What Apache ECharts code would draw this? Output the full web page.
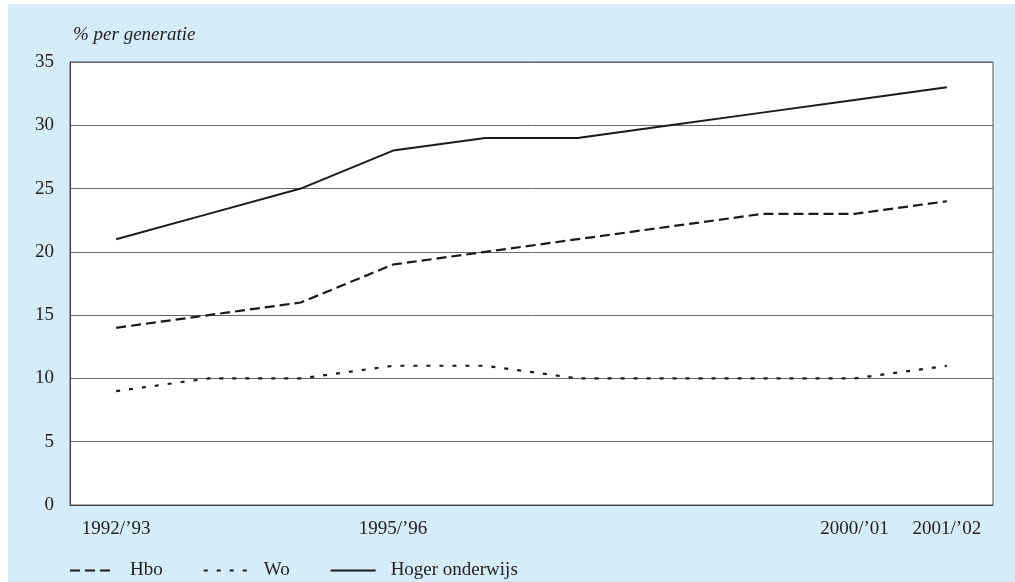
<!DOCTYPE html>
<html>
<head>
<meta charset="utf-8">
<script src="https://cdn.jsdelivr.net/npm/echarts@6/dist/echarts.min.js"></script>
<style>
html,body{margin:0;padding:0;background:#fff;width:1015px;height:582px;overflow:hidden;}
#c{position:absolute;left:8px;top:4px;width:1007px;height:578px;background:#d5ecf9;}
</style>
</head>
<body>
<div id="c"></div>
<script>
const categories = ['1992/\u201993','1993/\u201994','1994/\u201995','1995/\u201996','1996/\u201997','1997/\u201998','1998/\u201999','1999/\u201900','2000/\u201901','2001/\u201902'];
const shownLabels = ['1992/\u201993','1995/\u201996','2000/\u201901','2001/\u201902'];
const hbo = [14, 15, 16, 19, 20, 21, 22, 23, 23, 24];
const wo = [9, 10, 10, 11, 11, 10, 10, 10, 10, 11];
const hogerOnderwijs = [21, 23, 25, 28, 29, 29, 30, 31, 32, 33];
const yTicks = [0, 5, 10, 15, 20, 25, 30, 35];

const FONT = '"Liberation Serif", "DejaVu Serif", serif';
const FS = 19;
const chart = echarts.init(document.getElementById('c'));
chart.setOption({
  animation: false,
  textStyle: { fontFamily: FONT, color: '#222' },
  title: {
    text: '% per generatie', left: 60, top: 16,
    textStyle: { fontFamily: FONT, fontStyle: 'italic', fontWeight: 'normal', fontSize: FS, color: '#222' }
  },
  grid: { left: 62, right: 22, top: 58, bottom: 77, show: true, borderColor: '#555', borderWidth: 1, backgroundColor: '#fff' },
  legend: {
    bottom: -3, left: 56, itemWidth: 45, itemHeight: 10, itemGap: 40,
    itemStyle: { opacity: 0 },
    textStyle: { fontFamily: FONT, fontSize: FS, color: '#222', padding: [0, 0, 0, 10] },
    data: ['Hbo', 'Wo', 'Hoger onderwijs']
  },
  xAxis: {
    type: 'category', data: categories, boundaryGap: true,
    axisLine: { lineStyle: { color: '#444', width: 1 } },
    axisTick: { alignWithLabel: true, length: 7, lineStyle: { color: '#444' } },
    axisLabel: {
      interval: 0, margin: 15, fontSize: FS, color: '#222', fontFamily: FONT,
      formatter: v => shownLabels.includes(v) ? v : ''
    },
    splitLine: { show: false }
  },
  yAxis: {
    type: 'value', min: yTicks[0], max: yTicks[yTicks.length - 1], interval: 5,
    axisLine: { show: true, lineStyle: { color: '#444' } },
    axisTick: { show: false },
    axisLabel: { fontSize: FS, color: '#222', fontFamily: FONT, margin: 16 },
    splitLine: { lineStyle: { color: '#666', width: 1 } }
  },
  series: [
    { name: 'Hbo', type: 'line', data: hbo, symbol: 'none',
      lineStyle: { color: '#1a1a1a', width: 2.2, type: [10, 5] }, itemStyle: { color: '#1a1a1a' } },
    { name: 'Wo', type: 'line', data: wo, symbol: 'none',
      lineStyle: { color: '#1a1a1a', width: 2.2, type: [4, 9] }, itemStyle: { color: '#1a1a1a' } },
    { name: 'Hoger onderwijs', type: 'line', data: hogerOnderwijs, symbol: 'none',
      lineStyle: { color: '#1a1a1a', width: 2 }, itemStyle: { color: '#1a1a1a' } }
  ]
});
</script>
</body>
</html>
